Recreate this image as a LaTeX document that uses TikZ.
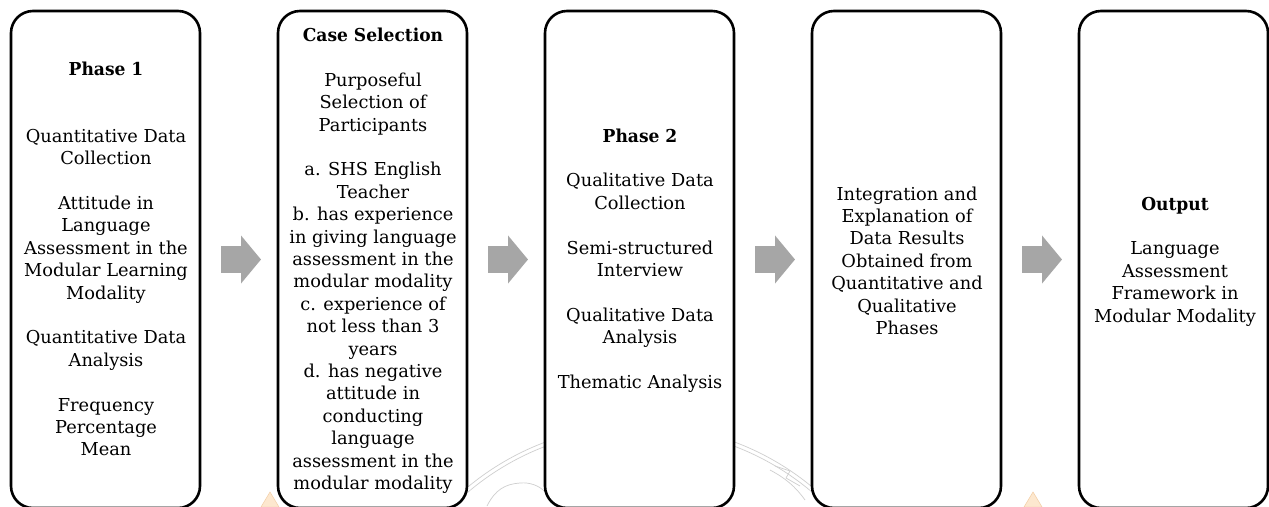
\documentclass[tikz,border=0pt]{standalone}
\usepackage{fontspec}
\setmainfont{DejaVu Serif}
\newfontfamily\headfont{DejaVu Serif}[FakeStretch=0.96]
\usetikzlibrary{calc,arrows.meta}

\definecolor{arrowgray}{HTML}{A6A6A6}
\definecolor{sealline}{HTML}{CFCFCF}
\definecolor{flamefill}{HTML}{FDE8CF}
\definecolor{flameline}{HTML}{F3CDA4}

\tikzset{
  stagebox/.style={draw=black, line width=2.6pt, rounded corners=22pt, fill=white,
    minimum width=189pt, minimum height=497pt, inner sep=0pt, outer sep=0pt},
  % anchor=base sits on the baseline of the last line
  stagetext/.style={align=center, anchor=base, inner sep=0pt,
    font=\fontsize{17.8}{22.4}\selectfont},
  flowarrow/.style={draw=arrowgray, line width=27pt,
    -{Triangle[length=20pt, width=47pt, fill=arrowgray]}},
  seal/.style={draw=sealline, line width=0.7pt},
  flame/.style={fill=flamefill, draw=flameline, line width=0.5pt},
}
\newcommand{\hd}[1]{{\headfont\bfseries #1}}

\begin{document}
\begin{tikzpicture}[x=1pt, y=-1pt]
  \useasboundingbox (0,0) rectangle (1269,506);
  \fill[white] (0,0) rectangle (1269,506);

  % faint seal in the background
  \draw[seal] (640,695) circle (270);
  \draw[seal] (640,695) circle (266);
  \draw[seal] (487,506) .. controls (495,490) and (505,484) .. (520,483)
              .. controls (530,482) and (540,486) .. (545,492);
  \draw[seal] (770,470) .. controls (785,478) and (795,486) .. (805,500);
  \draw[seal] (775,466) -- (790,471) -- (786,478) -- (800,486);
  \fill[flame] (270,492) -- (279,507) -- (261,507) -- cycle;
  \fill[flame] (1033,492) -- (1042,507) -- (1024,507) -- cycle;

  % stage boxes
  \node[stagebox] (b1) at (105.5,259.5) {};
  \node[stagebox] (b2) at (372.5,259.5) {};
  \node[stagebox] (b3) at (639.5,259.5) {};
  \node[stagebox] (b4) at (906.5,259.5) {};
  \node[stagebox] (b5) at (1173.5,259.5) {};

  % stage texts
  \node[stagetext] (t1) at (106,455.8) {\hd{Phase 1}\\[44.8pt]
    Quantitative Data\\ Collection\\[22.4pt]
    Attitude in\\ Language\\ Assessment in the\\ Modular Learning\\ Modality\\[22.4pt]
    Quantitative Data\\ Analysis\\[22.4pt]
    Frequency\\ Percentage\\ Mean};

  \node[stagetext] (t2) at (373,489.5) {\hd{Case Selection}\\[22.4pt]
    Purposeful\\ Selection of\\ Participants\\[22.4pt]
    a. SHS English\\ Teacher\\ b. has experience\\ in giving language\\
    assessment in the\\ modular modality\\ c. experience of\\ not less than 3\\
    years\\ d. has negative\\ attitude in\\ conducting\\ language\\
    assessment in the\\ modular modality};

  \node[stagetext] (t3) at (640,388.4) {\hd{Phase 2}\\[22.4pt]
    Qualitative Data\\ Collection\\[22.4pt]
    Semi-structured\\ Interview\\[22.4pt]
    Qualitative Data\\ Analysis\\[22.4pt]
    Thematic Analysis};

  \node[stagetext] (t4) at (907,334.4) {Integration and\\ Explanation of\\
    Data Results\\ Obtained from\\ Quantitative and\\ Qualitative\\ Phases};

  \node[stagetext] (t5) at (1175,322) {\hd{Output}\\[22.4pt]
    Language\\ Assessment\\ Framework in\\ Modular Modality};

  % arrows between stages
  \draw[flowarrow] ($(b1.east)+(21,0)$) -- ($(b2.west)+(-17,0)$);
  \draw[flowarrow] ($(b2.east)+(21,0)$) -- ($(b3.west)+(-17,0)$);
  \draw[flowarrow] ($(b3.east)+(21,0)$) -- ($(b4.west)+(-17,0)$);
  \draw[flowarrow] ($(b4.east)+(21,0)$) -- ($(b5.west)+(-17,0)$);
\end{tikzpicture}
\end{document}
